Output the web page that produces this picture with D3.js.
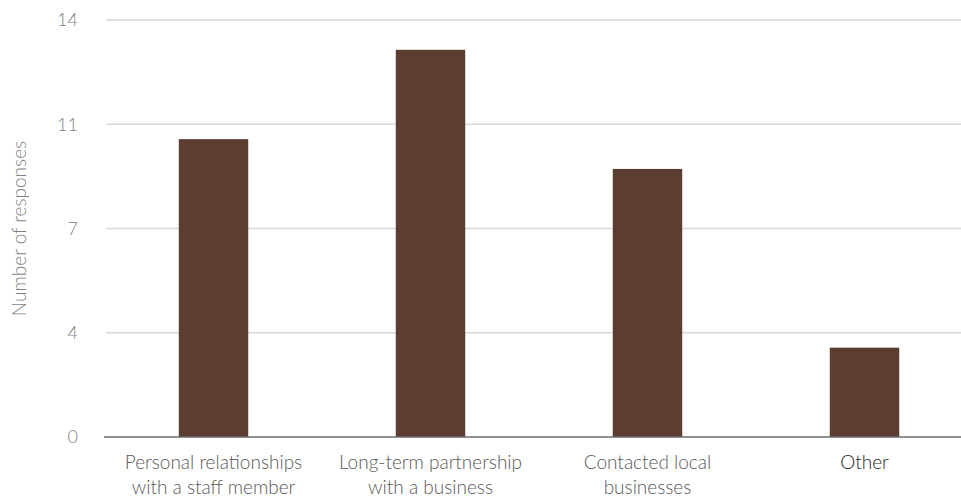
<!DOCTYPE html>
<html><head><meta charset="utf-8">
<script src="https://cdn.jsdelivr.net/npm/d3@7"></script>
<style>body{margin:0;background:#fff}svg{display:block}text{font-family:Lato,"Open Sans",sans-serif;font-weight:300}</style>
</head><body><svg id="c" width="961" height="500"></svg>
<script>
const categories = [["Personal relationships","with a staff member"],["Long-term partnership","with a business"],["Contacted local","businesses"],["Other"]];
const values = [10, 13, 9, 3];
const tickValues = [0, 3.5, 7, 10.5, 14];
const tickLabels = ["0", "4", "7", "11", "14"];
const yTitle = "Number of responses";

const svg = d3.select("#c");
const x = d3.scaleBand().domain(d3.range(categories.length)).range([105, 973]).paddingInner(0.68).paddingOuter(0.34);
const y = d3.scaleLinear().domain([0, 14]).range([437, 20]);

svg.append("g").selectAll("line").data(tickValues.slice(1)).join("line")
  .attr("x1", 106).attr("x2", 961).attr("y1", d => y(d)).attr("y2", d => y(d))
  .attr("stroke", "#d9d9d9").attr("stroke-width", 1.5);

svg.append("g").selectAll("rect").data(values).join("rect")
  .attr("x", (d, i) => x(i)).attr("width", x.bandwidth())
  .attr("y", d => y(d)).attr("height", d => y(0) - y(d)).attr("fill", "#5b3e31");

svg.append("line").attr("x1", 104).attr("x2", 961).attr("y1", y(0)).attr("y2", y(0))
  .attr("stroke", "#6b6b6b").attr("stroke-width", 1.5);

svg.append("g").selectAll("text").data(tickValues).join("text")
  .attr("x", 78).attr("y", d => y(d)).attr("dy", "0.35em").attr("text-anchor", "end")
  .attr("font-size", 18).attr("fill", "#7f7f7f").text((d, i) => tickLabels[i]);

const lab = svg.append("g").selectAll("text").data(categories).join("text")
  .attr("text-anchor", "middle").attr("font-size", 19)
  .attr("fill", (d, i) => i === categories.length - 1 ? "#262626" : "#595959");
lab.each(function(d, i) {
  d3.select(this).selectAll("tspan").data(d).join("tspan")
    .attr("x", x(i) + x.bandwidth() / 2).attr("y", (t, j) => 469 + j * 25).text(t => t);
});

svg.append("text").attr("transform", `translate(26,${(y(0) + y(14)) / 2}) rotate(-90)`)
  .attr("text-anchor", "middle").attr("font-size", 19).attr("fill", "#7f7f7f").text(yTitle);
</script></body></html>
